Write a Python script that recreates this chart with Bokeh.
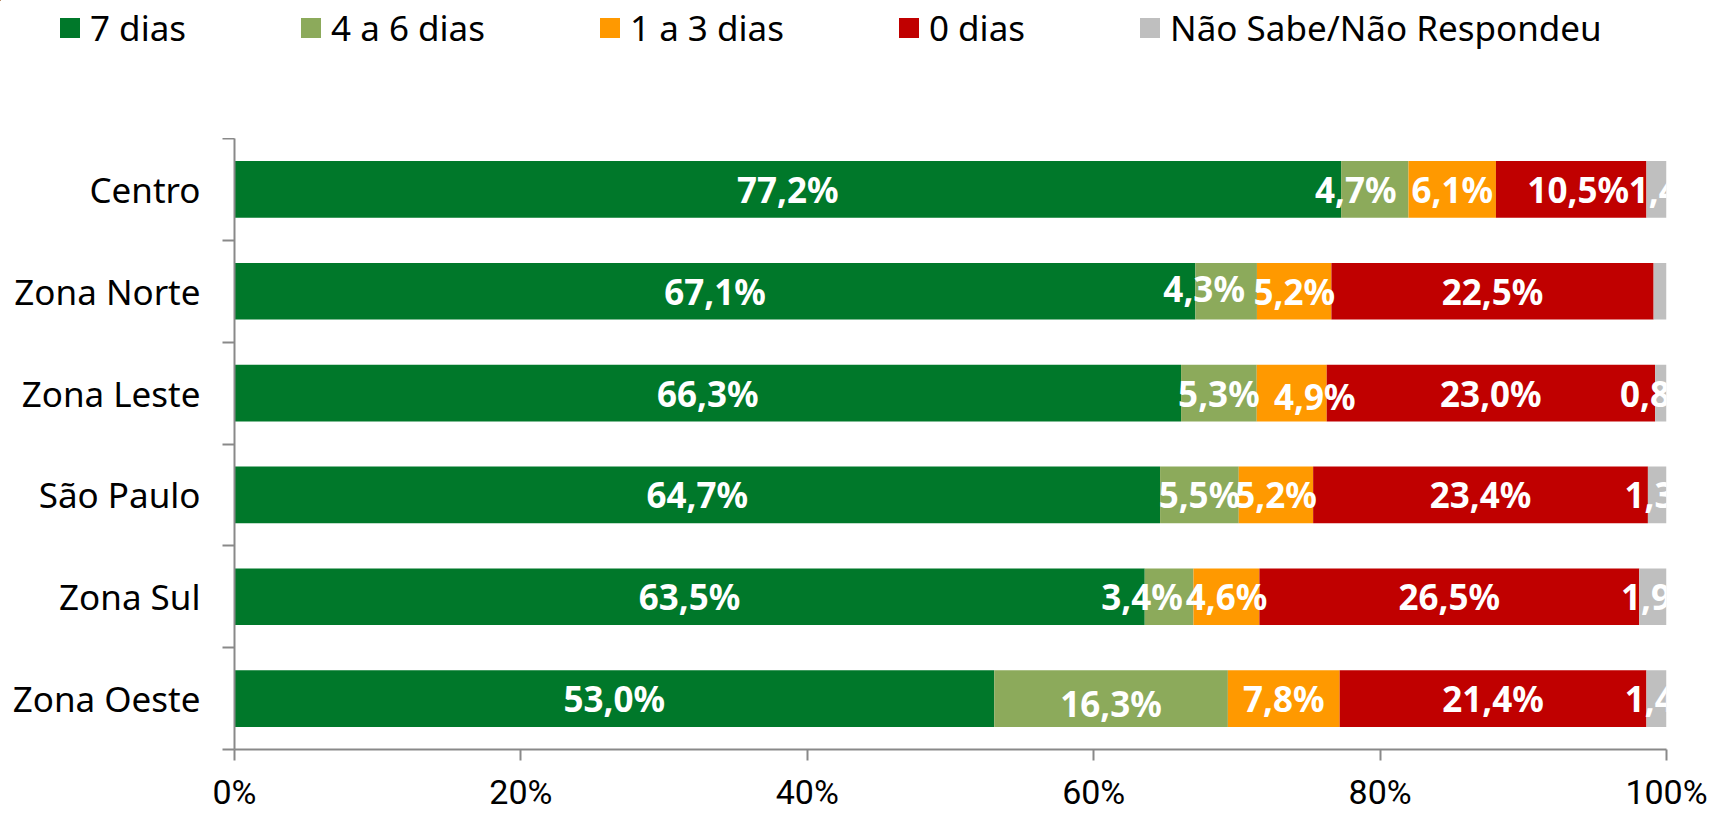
from bokeh.plotting import figure
from bokeh.models import (Range1d, FixedTicker, ColumnDataSource, Legend, LegendItem,
                          PrintfTickFormatter)
from bokeh.core.properties import value
from bokeh.embed import file_html
from bokeh.resources import INLINE

# ---------------- data (bottom to top) ----------------
categories = ["Zona Oeste", "Zona Sul", "São Paulo", "Zona Leste", "Zona Norte", "Centro"]
series_names = ["7 dias", "4 a 6 dias", "1 a 3 dias", "0 dias", "Não Sabe/Não Respondeu"]
dias_7 = [53.0, 63.5, 64.7, 66.3, 67.1, 77.2]
dias_4_6 = [16.3, 3.4, 5.5, 5.3, 4.3, 4.7]
dias_1_3 = [7.8, 4.6, 5.2, 4.9, 5.2, 6.1]
dias_0 = [21.4, 26.5, 23.4, 23.0, 22.5, 10.5]
ns_nr = [1.4, 1.9, 1.3, 0.8, 0.9, 1.4]
ns_nr_label_shown = [True, True, True, True, False, True]
x_ticks = [0, 20, 40, 60, 80, 100]

colors = ["#00782A", "#8CAA5B", "#FF9900", "#C00000", "#BFBFBF"]

# manual label nudges (pixels) as in the original chart: (series index, category index) -> (dx, dy)
label_nudge = {
    (1, 5): (-19, 0), (1, 4): (-22, -3), (1, 1): (-27, 0), (1, 0): (0, 5),
    (2, 3): (23, 3), (3, 5): (7, 0),
    (4, 5): (13, 0), (4, 3): (0, 0), (4, 2): (8, 0), (4, 1): (9, 0), (4, 0): (9, 0),
}

series_values = [dias_7, dias_4_6, dias_1_3, dias_0, ns_nr]
keys = ["s0", "s1", "s2", "s3", "s4"]

n = len(categories)
totals = [sum(s[i] for s in series_values) for i in range(n)]
ys = [i + 0.5 for i in range(n)]

data = {"y": ys}
for k, s in zip(keys, series_values):
    data[k] = [s[i] / totals[i] * 100 for i in range(n)]
source = ColumnDataSource(data)

# label source
lx, ly, lt, ldx, ldy = [], [], [], [], []
for j, s in enumerate(series_values):
    for i in range(n):
        if j == 4 and not ns_nr_label_shown[i]:
            continue
        start = sum(data[keys[m]][i] for m in range(j))
        width = data[keys[j]][i]
        lx.append(start + width / 2)
        ly.append(ys[i])
        lt.append(("%.1f" % s[i]).replace(".", ",") + "%")
        dx, dy = label_nudge.get((j, i), (0, 0))
        ldx.append(dx)
        ldy.append(dy)
label_source = ColumnDataSource(dict(x=lx, y=ly, text=lt, dx=ldx, dy=ldy))

# ---------------- legend strip (separate root so its frame spans the full width) ----------------
lg = figure(width=1713, height=138, output_backend="svg", toolbar_location=None,
            x_range=Range1d(1000, 1001), y_range=Range1d(-20, -19),
            min_border_left=0, min_border_right=0, min_border_top=0, min_border_bottom=0)
lg.axis.visible = False
lg.grid.visible = False
lg.outline_line_color = None
# zero-height copies of the stacked bars, outside the strip's ranges: only used for the legend swatches
lg_renderers = lg.hbar_stack(keys, y="y", height=0, color=colors, line_color=None, source=source)
legend = Legend(items=[LegendItem(label=series_names[k], renderers=[lg_renderers[k]]) for k in range(5)],
                orientation="horizontal", location=(57, 87),
                spacing=112, padding=0, margin=0, glyph_width=25, glyph_height=25,
                label_standoff=8, label_text_font="Noto Sans", label_text_font_size="35px",
                label_text_color="black", border_line_color=None, background_fill_alpha=0)
lg.add_layout(legend, "center")

# ---------------- main chart ----------------
p = figure(width=1713, height=676, output_backend="svg", toolbar_location=None,
           x_range=Range1d(0, 100), y_range=Range1d(0, n),
           min_border_left=234, min_border_right=47, min_border_top=0, min_border_bottom=62)
p.outline_line_color = None
p.xgrid.visible = False
p.ygrid.visible = False

renderers = p.hbar_stack(keys, y="y", height=0.557, color=colors, line_color=None, source=source)

p.text(x="x", y="y", text="text", x_offset="dx", y_offset="dy", source=label_source,
       text_color="white", text_font=value("Noto Sans"), text_font_style="bold",
       text_font_size="35px", text_align="center", text_baseline="middle")

axis_color = "#898989"
# x axis
p.xaxis.ticker = FixedTicker(ticks=x_ticks, minor_ticks=[])
p.xaxis.formatter = PrintfTickFormatter(format="%d%%")
p.xaxis.axis_line_color = axis_color
p.xaxis.axis_line_width = 2
p.xaxis.major_tick_line_color = axis_color
p.xaxis.major_tick_line_width = 2
p.xaxis.major_tick_out = 11
p.xaxis.major_tick_in = 0
p.xaxis.minor_tick_out = 0
p.xaxis.major_label_standoff = 11
p.xaxis.major_label_text_font = "Roboto"
p.xaxis.major_label_text_font_size = "34px"
p.xaxis.major_label_text_color = "black"

# y axis: labels at band centres, tick marks at band boundaries
p.yaxis.ticker = FixedTicker(ticks=ys, minor_ticks=list(range(n + 1)))
p.yaxis.major_label_overrides = {ys[i]: categories[i] for i in range(n)}
p.yaxis.axis_line_color = axis_color
p.yaxis.axis_line_width = 2
p.yaxis.major_tick_line_color = None
p.yaxis.major_tick_out = 0
p.yaxis.major_tick_in = 0
p.yaxis.minor_tick_line_color = axis_color
p.yaxis.minor_tick_line_width = 2
p.yaxis.minor_tick_out = 12
p.yaxis.minor_tick_in = 0
p.yaxis.major_label_standoff = 22
p.yaxis.major_label_text_font = "Noto Sans"
p.yaxis.major_label_text_font_size = "35px"
p.yaxis.major_label_text_color = "black"

open("out.html", "w").write(file_html([lg, p], INLINE))
